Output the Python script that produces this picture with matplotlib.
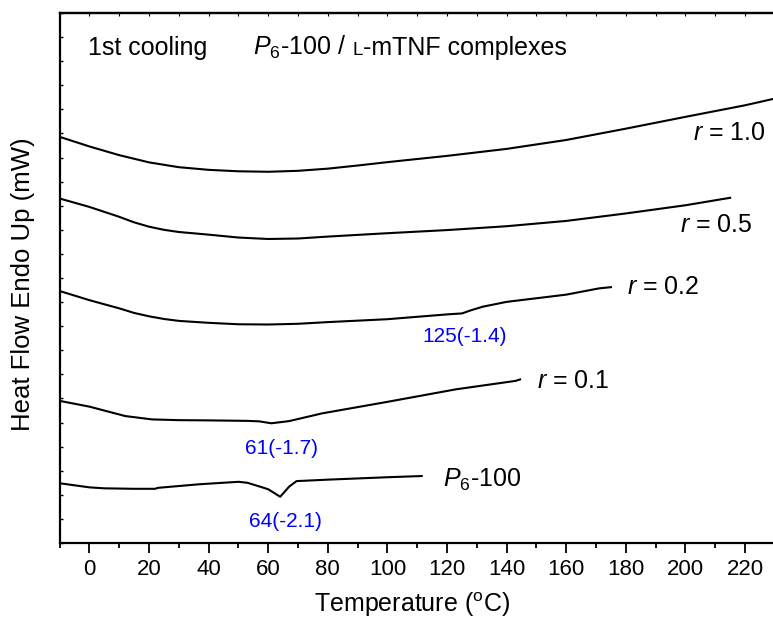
import matplotlib
matplotlib.use('Agg')
import matplotlib.pyplot as plt
from matplotlib.ticker import MultipleLocator

plt.rcParams['font.family'] = ['Liberation Sans', 'DejaVu Sans']
plt.rcParams['mathtext.fontset'] = 'custom'
plt.rcParams['mathtext.rm'] = 'Liberation Sans'
plt.rcParams['mathtext.it'] = 'Liberation Sans:italic'

# DSC cooling traces (offset heat flow, arbitrary units)
temp_r10 = [-10, 0, 10, 20, 30, 40, 50, 60, 70, 80, 90, 100, 120, 140, 160, 180, 200, 220, 230]
hf_r10 = [16.86, 16.46, 16.10, 15.80, 15.60, 15.49, 15.43, 15.41, 15.45, 15.54, 15.67, 15.81,
          16.07, 16.36, 16.73, 17.20, 17.69, 18.17, 18.45]

temp_r05 = [-10, 0, 10, 15, 20, 25, 30, 40, 50, 60, 70, 80, 100, 120, 140, 160, 180, 200, 215]
hf_r05 = [14.30, 13.95, 13.54, 13.31, 13.13, 13.00, 12.91, 12.80, 12.68, 12.62, 12.64, 12.72,
          12.86, 12.99, 13.15, 13.37, 13.68, 14.02, 14.33]

temp_r02 = [-10, 0, 10, 15, 20, 25, 30, 40, 50, 60, 70, 80, 100, 120, 125, 128, 132, 140, 160,
            171, 175]
hf_r02 = [10.46, 10.08, 9.74, 9.55, 9.41, 9.30, 9.22, 9.14, 9.08, 9.07, 9.10, 9.17, 9.29, 9.49,
          9.53, 9.66, 9.81, 10.01, 10.31, 10.57, 10.62]

temp_r01 = [-10, 0, 12, 21, 30, 40, 53, 57, 61, 67, 78, 100, 123, 143, 144.5]
hf_r01 = [5.90, 5.66, 5.27, 5.13, 5.10, 5.09, 5.07, 5.05, 4.97, 5.06, 5.38, 5.86, 6.38, 6.73, 6.79]

temp_p6 = [-10, 0, 5, 15, 22, 23, 37, 50, 53, 58, 60, 64, 67, 69.5, 80, 100, 111.5]
hf_p6 = [2.48, 2.31, 2.27, 2.25, 2.25, 2.29, 2.44, 2.54, 2.50, 2.31, 2.23, 1.92, 2.34, 2.57,
         2.63, 2.73, 2.78]

# peak labels: temperature(enthalpy)
peak_text = ['125(-1.4)', '61(-1.7)', '64(-2.1)']
peak_x = [126, 64.6, 65.8]
peak_y = [8.35, 3.69, 0.68]

curve_labels = [r'$r$ = 1.0', r'$r$ = 0.5', r'$r$ = 0.2', r'$r$ = 0.1', r'$P_{6}$-100']
label_x = [202.5, 198.2, 180.3, 150.2, 118.6]
label_y = [16.72, 12.92, 10.33, 6.42, 2.32]

fig = plt.figure(figsize=(7.73, 6.23), dpi=100)
ax = fig.add_axes([0.0772, 0.1284, 0.9252, 0.8507])

for t, h in [(temp_r10, hf_r10), (temp_r05, hf_r05), (temp_r02, hf_r02),
             (temp_r01, hf_r01), (temp_p6, hf_p6)]:
    ax.plot(t, h, color='black', lw=1.5, solid_joinstyle='round')

for s, x, y in zip(curve_labels, label_x, label_y):
    ax.text(x, y, s, fontsize=18, ha='left', va='baseline')

for s, x, y in zip(peak_text, peak_x, peak_y):
    ax.text(x, y, s, fontsize=15, color='#0000ff', ha='center', va='baseline')

ax.set_xlim(-10, 230)
ax.set_ylim(0, 22)

# title-like text inside the frame
ax.text(-0.5, 20.25, '1st cooling', fontsize=18, va='baseline')
t1 = ax.text(54.9, 20.25, r'$P_{6}$-100 /', fontsize=18, va='baseline')
fig.canvas.draw()
r = fig.canvas.get_renderer()
x1 = ax.transData.inverted().transform(t1.get_window_extent(r).get_points())[1][0]
t2 = ax.text(x1 + 2.2, 20.25, 'L', fontsize=13.5, va='baseline')
fig.canvas.draw()
x2 = ax.transData.inverted().transform(t2.get_window_extent(r).get_points())[1][0]
ax.text(x2, 20.25, '-mTNF complexes', fontsize=18, va='baseline')

ax.set_xticks(range(0, 221, 20))
ax.xaxis.set_minor_locator(MultipleLocator(10))
ax.tick_params(axis='x', which='major', direction='out', length=7.2, width=1.3,
               labelsize=16, pad=4.3)
ax.tick_params(axis='x', which='minor', direction='out', length=3.6, width=1.3)
ax.yaxis.set_major_locator(MultipleLocator(1))
ax.tick_params(axis='y', which='major', direction='in', length=2.5, width=1, labelleft=False)

top = ax.secondary_xaxis('top')
top.set_xticks(range(-10, 231, 10))
top.tick_params(direction='in', length=1.8, width=0.8, labeltop=False)

for side in ['left', 'bottom', 'top']:
    ax.spines[side].set_linewidth(1.6)
top.spines['top'].set_linewidth(1.6)
ax.spines['right'].set_visible(False)

ax.set_xlabel(r'Temperature ($^{\rm o}$C)', fontsize=18)
ax.xaxis.label.set_va('baseline')
ax.xaxis.set_label_coords(0.4926, -0.1296)
ax.set_ylabel('Heat Flow Endo Up (mW)', fontsize=18.5)
ax.yaxis.label.set_va('center')
ax.yaxis.set_label_coords(-0.0517, 0.4887)

fig.savefig('out.png', dpi=100)
